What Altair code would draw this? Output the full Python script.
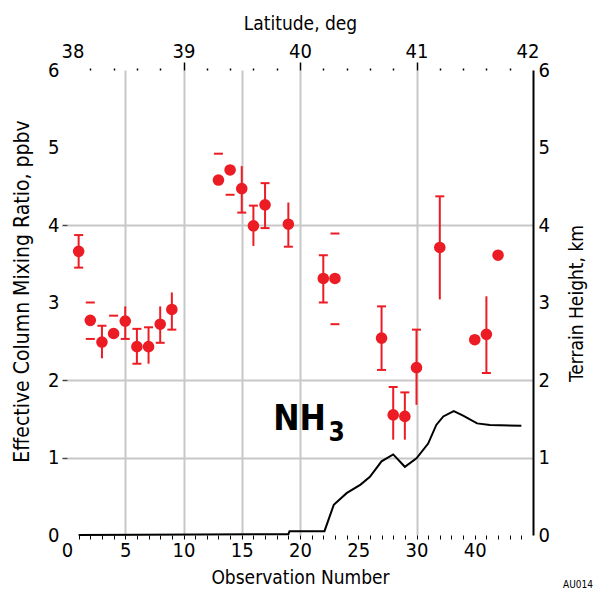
import altair as alt
import pandas as pd

FONT = "Liberation Sans Narrow, DejaVu Sans Condensed, Roboto Condensed, Arial Narrow, sans-serif"
RED = "#ec1c24"
GRID = "#c8c8c8"

# ---- measurements (Effective column mixing ratio, ppbv) ----
obs = [1, 2, 3, 4, 5, 6, 7, 8, 9, 13, 14, 15, 16, 17, 19, 22, 23, 27, 28, 29, 30, 32, 35, 36, 37]
ratio = [3.66, 2.77, 2.49, 2.60, 2.76, 2.43, 2.43, 2.72, 2.91, 4.58, 4.71, 4.47, 3.99, 4.26,
         4.01, 3.31, 3.31, 2.54, 1.55, 1.53, 2.16, 3.71, 2.52, 2.59, 3.61]
err_lo = [3.45, 2.53, 2.28, None, 2.53, 2.21, 2.21, 2.48, 2.65, None, 4.39, 4.16, 3.73, 3.96,
          3.72, 3.00, 2.72, 2.13, 1.23, 1.23, 1.68, 3.04, None, 2.09, None]
err_hi = [3.87, 3.00, 2.70, 2.83, 2.95, 2.66, 2.68, 2.95, 3.13, 4.92, None, 4.76, 4.25, 4.54,
          4.29, 3.61, 3.89, 2.95, 1.91, 1.84, 2.65, 4.37, None, 3.08, None]
has_line = [1, 0, 1, 0, 1, 1, 1, 1, 1, 0, 0, 1, 1, 1, 1, 1, 0, 1, 1, 1, 1, 1, 0, 1, 0]
cap_lo = [1, 1, 0, 0, 1, 1, 0, 1, 1, 0, 1, 1, 0, 1, 1, 1, 1, 1, 0, 0, 0, 0, 0, 1, 0]
cap_hi = [1, 1, 1, 1, 0, 1, 1, 0, 0, 1, 0, 0, 1, 1, 0, 1, 1, 1, 1, 1, 1, 1, 0, 0, 0]

# ---- terrain height, km ----
terrain_obs = [1, 19, 19.1, 22.1, 22.9, 24, 25.2, 26, 27, 28, 29, 30, 31, 31.7, 32.3, 33.2,
               34, 35.2, 36.3, 39]
terrain_km = [0.0, 0.01, 0.05, 0.05, 0.39, 0.54, 0.65, 0.75, 0.95, 1.04, 0.88, 0.99, 1.18,
              1.42, 1.53, 1.60, 1.54, 1.44, 1.42, 1.41]

# ---- axes / annotation ----
x_grid = [5, 10, 15, 20, 30]
y_grid = [1, 2, 4]
ann_text = ["NH", "3"]
ann_x = [17.7, 22.45]      # obs
ann_y = [1.35, 1.21]       # ppbv
ann_size = [35, 26]

pts = pd.DataFrame(dict(obs=obs, ratio=ratio, lo=err_lo, hi=err_hi,
                        line=has_line, caplo=cap_lo, caphi=cap_hi))
ter = pd.DataFrame(dict(obs=terrain_obs, km=terrain_km))
ann = pd.DataFrame(dict(x=ann_x, y=ann_y, t=ann_text, s=ann_size))

xscale = alt.Scale(domain=[0, 40], nice=False, zero=False)
yscale = alt.Scale(domain=[0, 6], nice=False)

grid_test_x = "indexof(%s, datum.value) >= 0" % str(x_grid)
grid_test_y = "indexof(%s, datum.value) >= 0" % str(y_grid)

bottom_axis = alt.Axis(
    values=list(range(0, 41)),
    labelExpr="datum.value % 5 == 0 && datum.value < 40 ? (datum.value == 35 ? '40' : datum.label) : ''",
    tickSize=4, tickColor="black", tickWidth=1,
    tickOpacity={"condition": {"test": "datum.value == 0 || datum.value == 40", "value": 0}, "value": 1},
    domain=False, grid=True, gridColor=GRID, gridWidth=2,
    gridOpacity={"condition": {"test": grid_test_x, "value": 1}, "value": 0},
    labelFont=FONT, labelFontSize=20, labelColor="black", labelFlush=False,
    labelPadding=1, labelBaseline="top",
    title="Observation Number", titleFont=FONT, titleFontSize=19,
    titleFontWeight="normal", titleColor="black", titleY=42, titleBaseline="middle",
)

left_axis = alt.Axis(
    values=list(range(0, 7)), format="d",
    tickSize=5, tickColor="#444", tickWidth=1.5,
    tickOpacity={"condition": {"test": grid_test_y, "value": 1}, "value": 0},
    domain=False, grid=True, gridColor=GRID, gridWidth=2,
    gridOpacity={"condition": {"test": grid_test_y, "value": 1}, "value": 0},
    labelFont=FONT, labelFontSize=20, labelColor="black", labelPadding=3,
    title="Effective Column Mixing Ratio, ppbv", titleFont=FONT, titleFontSize=21,
    titleFontWeight="normal", titleColor="black", titleAngle=270,
    titleX=-45, titleY=221, titleAlign="center", titleBaseline="middle",
)

top_axis = alt.Axis(
    orient="top", values=list(range(0, 41, 2)),
    labelExpr="datum.value % 10 == 0 ? format(38 + datum.value / 10, 'd') : ''",
    tickSize={"condition": {"test": "datum.value % 10 == 0", "value": 8}, "value": 2},
    tickColor="black", tickWidth=1.5,
    tickOpacity={"condition": {"test": "datum.value == 0 || datum.value == 40", "value": 0}, "value": 1},
    domain=False, grid=False,
    labelFont=FONT, labelFontSize=20, labelColor="black",
    labelFlush=True, labelFlushOffset=6,
    labelPadding=1,
    title="Latitude, deg", titleFont=FONT, titleFontSize=19, titleFontWeight="normal",
    titleColor="black", titleY=-47, titleBaseline="middle",
)

right_axis = alt.Axis(
    orient="right", values=list(range(0, 7)), format="d",
    ticks=False, domain=True, domainColor="black", domainWidth=2,
    grid=False, labelFont=FONT, labelFontSize=20, labelColor="black", labelPadding=5,
    title="Terrain Height, km", titleFont=FONT, titleFontSize=19, titleFontWeight="normal",
    titleColor="black", titleAngle=270, titleX=43, titleY=233,
    titleAlign="center", titleBaseline="middle",
)

base = alt.Chart(pts)

points = base.mark_circle(size=135, color=RED, opacity=1).encode(
    x=alt.X("obs:Q", scale=xscale, axis=bottom_axis),
    y=alt.Y("ratio:Q", scale=yscale, axis=left_axis),
)

bars = base.transform_filter("datum.line == 1").mark_rule(color=RED, strokeWidth=2).encode(
    x=alt.X("obs:Q", scale=xscale, axis=None),
    y=alt.Y("lo:Q", scale=yscale, axis=None),
    y2="hi:Q",
)

caps_lo = base.transform_filter("datum.caplo == 1").mark_tick(
    color=RED, orient="horizontal", size=9, thickness=2, opacity=1).encode(
    x=alt.X("obs:Q", scale=xscale, axis=None),
    y=alt.Y("lo:Q", scale=yscale, axis=None),
)

caps_hi = base.transform_filter("datum.caphi == 1").mark_tick(
    color=RED, orient="horizontal", size=9, thickness=2, opacity=1).encode(
    x=alt.X("obs:Q", scale=xscale, axis=None),
    y=alt.Y("hi:Q", scale=yscale, axis=None),
)

terrain = alt.Chart(ter).mark_line(color="black", strokeWidth=2).encode(
    x=alt.X("obs:Q", scale=xscale, axis=top_axis),
    y=alt.Y("km:Q", scale=yscale, axis=right_axis),
)

nh = alt.Chart(ann).mark_text(font=FONT, fontWeight="bold", color="black",
                              align="left", baseline="alphabetic").encode(
    x=alt.X("x:Q", scale=xscale, axis=None),
    y=alt.Y("y:Q", scale=yscale, axis=None),
    text="t:N",
    size=alt.Size("s:Q", scale=None, legend=None),
)

tag = alt.Chart(pd.DataFrame(dict(t=["AU014"]))).mark_text(
    font=FONT, fontSize=10, color="black", align="center").encode(
    x=alt.value(511), y=alt.value(515), text="t:N")

chart = alt.layer(bars, caps_lo, caps_hi, points, terrain, nh, tag).resolve_axis(
    x="independent", y="independent"
).properties(
    width=466, height=465,
    autosize=alt.AutoSizeParams(type="none"),
    padding={"left": 67, "top": 70, "right": 62, "bottom": 57},
    background="white",
).configure_view(stroke=None)

chart.save("out.html", embed_options={"renderer": "svg", "actions": False})
